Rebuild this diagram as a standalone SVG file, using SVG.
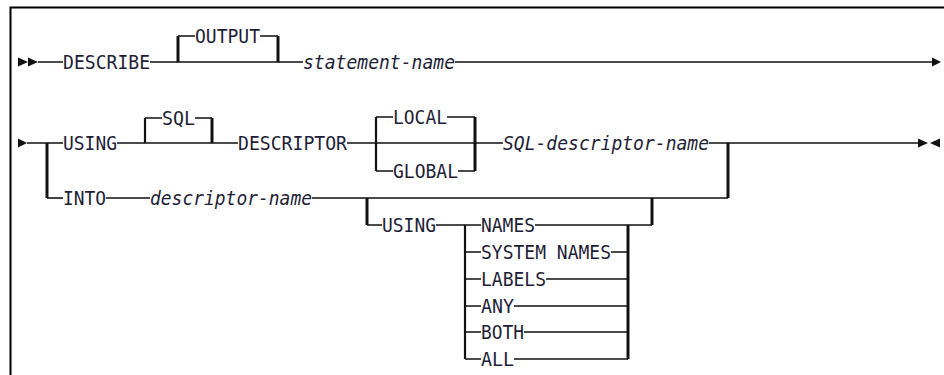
<svg xmlns="http://www.w3.org/2000/svg" width="944" height="375" viewBox="0 0 944 375">
<style>
text{font-family:"DejaVu Sans Mono","Liberation Mono",monospace;font-size:20px;fill:#1e1e36}
.v{font-style:italic}
.l{fill:none;stroke:#111;stroke-width:1.6}
.t{fill:none;stroke:#111;stroke-width:2.2}
.k{fill:none;stroke:#111;stroke-width:3}
.a{fill:#111}
</style>
<rect x="0" y="0" width="944" height="375" fill="#fff"/>
<path d="M10.5,375 V7.5 H944" fill="none" stroke="#000" stroke-width="2"/>
<g id="connectors">
<polygon class="a" points="18,57.5 28,62 18,66.5"/>
<polygon class="a" points="28,57.5 38,62 28,66.5"/>
<path class="l" d="M38,62 H63 M150,62 H303 M455,62 H932"/>
<path class="k" d="M178,62 V36"/>
<path class="l" d="M178,36 H195 M260,36 H278"/>
<path class="k" d="M278,36 V62"/>
<polygon class="a" points="932,57.5 941,62 932,66.5"/>
<polygon class="a" points="18,138.5 27,143 18,147.5"/>
<path class="l" d="M27,143 H63 M117,143 H238 M347,143 H503 M709,143 H918"/>
<path class="k" d="M47,143 V198"/>
<path class="l" d="M47,198 H63"/>
<path class="t" d="M145,143 V118"/>
<path class="l" d="M145,118 H162 M195,118 H212"/>
<path class="k" d="M212,118 V143"/>
<path class="t" d="M376,117 V171"/>
<path class="l" d="M376,117 H393 M447,117 H475 M376,171 H393 M458,171 H475"/>
<path class="k" d="M475,117 V171"/>
<polygon class="a" points="918,138.5 928,143 918,147.5"/>
<polygon class="a" points="940,138.5 930,143 940,147.5"/>
<path class="k" d="M728,143 V198"/>
<path class="l" d="M106,198 H150 M312,198 H728"/>
<path class="k" d="M367,198 V225"/>
<path class="l" d="M367,225 H382 M436,225 H481 M535,225 H652"/>
<path class="k" d="M652,225 V198"/>
<path class="t" d="M465,225 V359"/>
<path class="k" d="M628,225 V359"/>
<path class="l" d="M465,252 H481 M611,252 H628 M465,279 H481 M546,279 H628 M465,306 H481 M514,306 H628 M465,332 H481 M524,332 H628 M465,359 H481 M514,359 H628"/>
</g>
<g id="describe"><text x="63" y="69" textLength="87" lengthAdjust="spacingAndGlyphs">DESCRIBE</text></g>
<g id="output"><text x="195" y="43" textLength="65" lengthAdjust="spacingAndGlyphs">OUTPUT</text></g>
<g id="statement-name"><text class="v" x="303" y="69" textLength="152" lengthAdjust="spacingAndGlyphs">statement-name</text></g>
<g id="using1"><text x="63" y="150" textLength="54" lengthAdjust="spacingAndGlyphs">USING</text></g>
<g id="sql"><text x="162" y="125" textLength="33" lengthAdjust="spacingAndGlyphs">SQL</text></g>
<g id="descriptor"><text x="238" y="150" textLength="109" lengthAdjust="spacingAndGlyphs">DESCRIPTOR</text></g>
<g id="local"><text x="393" y="124" textLength="54" lengthAdjust="spacingAndGlyphs">LOCAL</text></g>
<g id="global"><text x="393" y="178" textLength="65" lengthAdjust="spacingAndGlyphs">GLOBAL</text></g>
<g id="sql-descriptor-name"><text class="v" x="503" y="150" textLength="206" lengthAdjust="spacingAndGlyphs">SQL-descriptor-name</text></g>
<g id="into"><text x="63" y="205" textLength="43" lengthAdjust="spacingAndGlyphs">INTO</text></g>
<g id="descriptor-name"><text class="v" x="150" y="205" textLength="162" lengthAdjust="spacingAndGlyphs">descriptor-name</text></g>
<g id="using2"><text x="382" y="232" textLength="54" lengthAdjust="spacingAndGlyphs">USING</text></g>
<g id="names"><text x="481" y="232" textLength="54" lengthAdjust="spacingAndGlyphs">NAMES</text></g>
<g id="system-names"><text x="481" y="259" textLength="130" lengthAdjust="spacingAndGlyphs">SYSTEM NAMES</text></g>
<g id="labels"><text x="481" y="286" textLength="65" lengthAdjust="spacingAndGlyphs">LABELS</text></g>
<g id="any"><text x="481" y="313" textLength="33" lengthAdjust="spacingAndGlyphs">ANY</text></g>
<g id="both"><text x="481" y="339" textLength="43" lengthAdjust="spacingAndGlyphs">BOTH</text></g>
<g id="all"><text x="481" y="366" textLength="33" lengthAdjust="spacingAndGlyphs">ALL</text></g>
</svg>
